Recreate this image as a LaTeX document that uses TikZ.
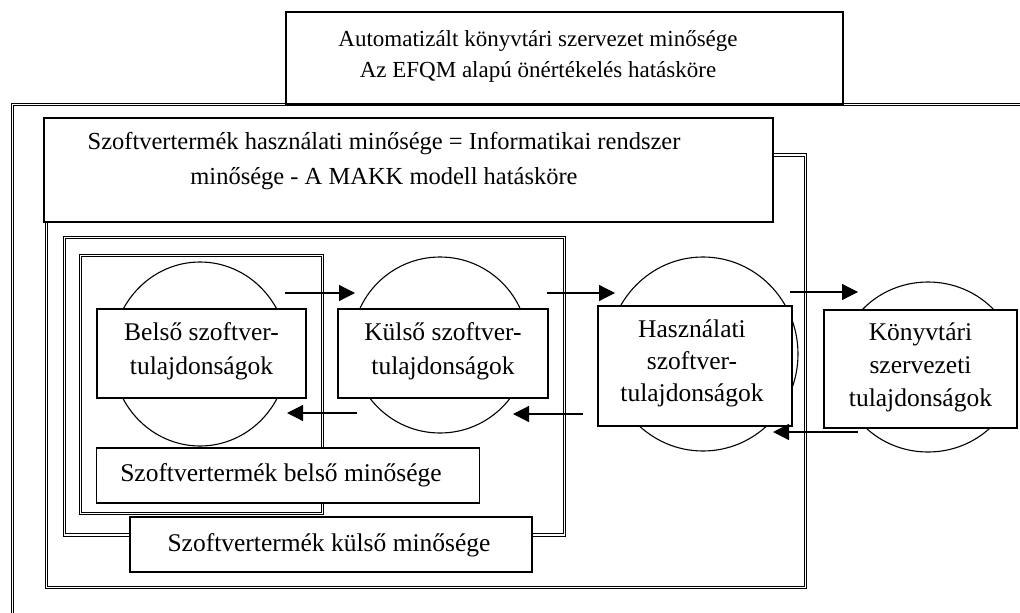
\documentclass[tikz,border=0pt]{standalone}
\usepackage{fontspec}
\setmainfont{Liberation Serif}
\usetikzlibrary{arrows.meta,shapes.geometric}
\begin{document}
\begin{tikzpicture}[x=1pt,y=-1pt,
  frame/.style={draw, double, double distance=1.4pt, line width=0.9pt},
  box/.style={draw, fill=white, line width=1.2pt, inner sep=0pt},
  circ/.style={draw, ellipse, line width=1.1pt, inner sep=0pt},
  txt/.style={font=\fontsize{25.5}{34}\selectfont, align=center, inner sep=0pt},
  arr/.style={-{Triangle[length=16pt,width=16pt]}, line width=1.2pt}
]
\useasboundingbox (0,0) rectangle (1020,613);
% outer frame (EFQM scope)
\draw[frame] (1025,104.5) -- (12.3,104.5) -- (12.3,620);
% top box
\node[box, minimum width=557pt, minimum height=92pt] (top) at (564.5,58) {};
\node[txt, font=\fontsize{23}{31}\selectfont] (toptxt) at (538,56) {Automatizált könyvtári szervezet minősége\\Az EFQM alapú önértékelés hatásköre};
% MAKK frame
\draw[frame] (46.5,155) rectangle (805.5,587.5);
\node[box, minimum width=729pt, minimum height=104pt] (makk) at (408.5,170) {};
\node[txt, font=\fontsize{24.5}{35}\selectfont] (makktxt) at (384,161) {Szoftvertermék használati minősége = Informatikai rendszer\\minősége - A MAKK modell hatásköre};
% kulso frame
\draw[frame] (64.5,237.5) rectangle (564.5,535);
% belso frame
\draw[frame] (80.5,255.5) rectangle (322.5,513.5);
% circles
\node[circ, minimum width=176pt, minimum height=184pt] (c1) at (200,354) {};
\node[circ, minimum width=176pt, minimum height=176pt] (c2) at (440,345) {};
\node[circ, minimum width=190pt, minimum height=194pt] (c3) at (703,354) {};
\node[circ, minimum width=178pt, minimum height=170pt] (c4) at (928,367) {};
% property boxes
\node[box, minimum width=209pt, minimum height=89pt] (b1) at (201.5,353.5) {};
\node[txt] at (201.5,351.5) {Belső szoftver-\\tulajdonságok};
\node[box, minimum width=210pt, minimum height=89pt] (b2) at (443,353.5) {};
\node[txt] at (443,351.5) {Külső szoftver-\\tulajdonságok};
\node[box, minimum width=194pt, minimum height=120pt] (b3) at (695,366) {};
\node[txt, font=\fontsize{25.5}{32}\selectfont] at (692,363) {Használati\\szoftver-\\tulajdonságok};
\node[box, minimum width=193pt, minimum height=118pt] (b4) at (920.5,369) {};
\node[txt, font=\fontsize{25.5}{33}\selectfont] at (920.5,367) {Könyvtári\\szervezeti\\tulajdonságok};
% quality boxes
\node[box, minimum width=383pt, minimum height=55pt] (q1) at (288,475.5) {};
\node[txt] at (281,475) {Szoftvertermék belső minősége};
\node[box, minimum width=402pt, minimum height=55pt] (q2) at (331,544.5) {};
\node[txt] at (329,545) {Szoftvertermék külső minősége};
% arrows
\coordinate (a1s) at (285,293); \coordinate (a1e) at (355,293);
\coordinate (a2s) at (357,413); \coordinate (a2e) at (287,413);
\coordinate (a3s) at (547,293); \coordinate (a3e) at (615,293);
\coordinate (a4s) at (583,414); \coordinate (a4e) at (513,414);
\coordinate (a5s) at (790,292); \coordinate (a5e) at (858,292);
\coordinate (a6s) at (858,432); \coordinate (a6e) at (773,432);
\draw[arr] (a1s) -- (a1e);
\draw[arr] (a2s) -- (a2e);
\draw[arr] (a3s) -- (a3e);
\draw[arr] (a4s) -- (a4e);
\draw[arr] (a5s) -- (a5e);
\draw[arr] (a6s) -- (a6e);
\end{tikzpicture}
\end{document}
